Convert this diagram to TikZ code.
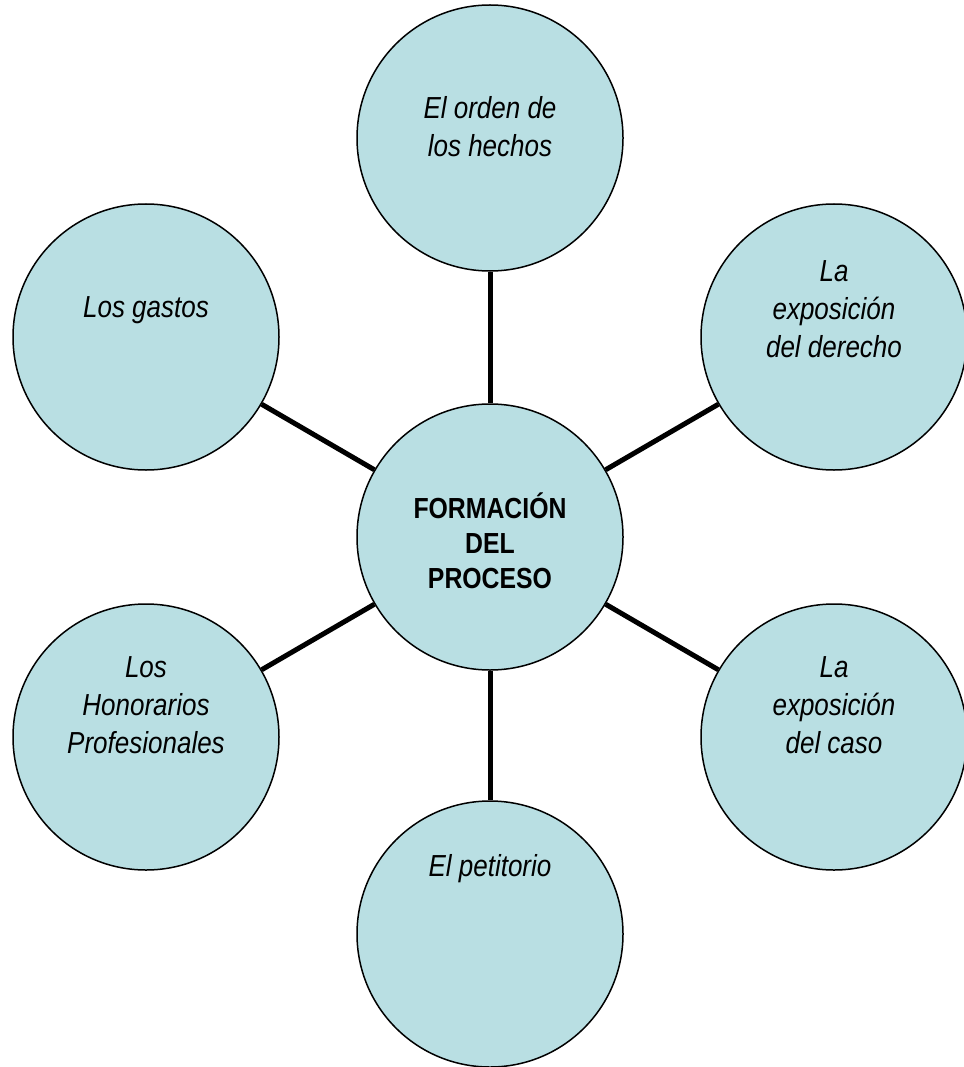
\documentclass[tikz,border=0pt]{standalone}
\usepackage{graphicx}
\usepackage{fontspec}
\setmainfont{Liberation Sans}
\definecolor{cfill}{RGB}{185,223,227}
\newcommand\vtall[1]{\scalebox{1}[1.17]{#1}}
\newcommand\nolsk{\lineskiplimit=-100pt\relax}
\begin{document}
\begin{tikzpicture}[x=1pt,y=-1pt,
  circ/.style={circle,draw=black,line width=1.5pt,fill=cfill,minimum size=266pt,inner sep=0pt},
  txt/.style={align=center,font={\fontsize{26}{38}\selectfont\itshape\nolsk},inner sep=0pt},
  ctxt/.style={align=center,font={\fontsize{24.8}{35}\selectfont\bfseries\nolsk},inner sep=0pt},
  conn/.style={line width=5pt}]
\useasboundingbox (0,0) rectangle (963,1067);
\node[circ] (c) at (490,537) {};
\node[circ] (t) at (490,138) {};
\node[circ] (rt) at (834,337) {};
\node[circ] (rb) at (834,737) {};
\node[circ] (b) at (490,934) {};
\node[circ] (lb) at (146,737) {};
\node[circ] (lt) at (146,337) {};
\foreach \n in {t,rt,rb,b,lb,lt} {\draw[conn] (c) -- (\n);}
\node[ctxt] (ct) at (490,541) {\vtall{FORMACIÓN}\\\vtall{DEL}\\\vtall{PROCESO}};
\node[txt] (tt) at (490,127) {\vtall{El orden de}\\\vtall{los hechos}};
\node[txt] (rtt) at (834,309) {\vtall{La}\\\vtall{exposición}\\\vtall{del derecho}};
\node[txt] (rbt) at (834,705) {\vtall{La}\\\vtall{exposición}\\\vtall{del caso}};
\node[txt] (bt) at (490,869) {\vtall{El petitorio}};
\node[txt] (lbt) at (146,705) {\vtall{Los}\\\vtall{Honorarios}\\\vtall{Profesionales}};
\node[txt] (ltt) at (146,310) {\vtall{Los gastos}};
\end{tikzpicture}
\end{document}
